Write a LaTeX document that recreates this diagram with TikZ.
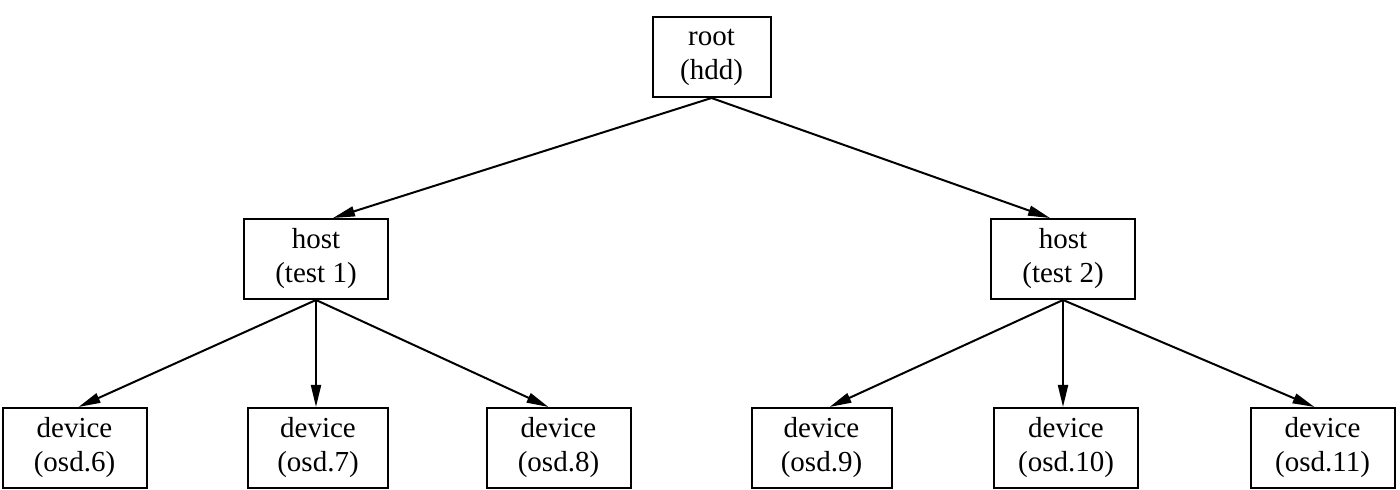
\documentclass[tikz,border=0pt]{standalone}
\usepackage{fontspec}
\setmainfont{Liberation Serif}
\usetikzlibrary{arrows.meta}
\begin{document}
\begin{tikzpicture}[x=0.5pt, y=-0.5pt, every node/.style={font=\fontsize{14.5}{17}\selectfont}]
  \tikzstyle{box}=[draw,line width=1pt,minimum width=72pt,minimum height=40pt,align=center,inner sep=0pt]
  \tikzstyle{edge}=[line width=1pt,-{Triangle[length=11pt,width=5pt]}]
  \useasboundingbox (0,0) rectangle (1400,490);
  \node[box,minimum width=59pt] (root) at (711.5,57) {root\\(hdd)};
  \node[box] (h1) at (316,259) {host\\(test 1)};
  \node[box] (h2) at (1063,259) {host\\(test 2)};
  \node[box] (d6) at (74.5,448) {device\\(osd.6)};
  \node[box,minimum width=70pt] (d7) at (318,448) {device\\(osd.7)};
  \node[box] (d8) at (558.5,448) {device\\(osd.8)};
  \node[box,minimum width=70pt] (d9) at (821.5,448) {device\\(osd.9)};
  \node[box] (d10) at (1066,448) {device\\(osd.10)};
  \node[box] (d11) at (1322.5,448) {device\\(osd.11)};
  \draw[edge] (root.south) -- ([xshift=8.5pt]h1.north);
  \draw[edge] (root.south) -- ([xshift=-6.5pt]h2.north);
  \draw[edge] (h1.south) -- ([xshift=2pt]d6.north);
  \draw[edge] (h1.south) -- ([xshift=-1pt]d7.north);
  \draw[edge] (h1.south) -- ([xshift=-5pt]d8.north);
  \draw[edge] (h2.south) -- ([xshift=4pt]d9.north);
  \draw[edge] (h2.south) -- ([xshift=-1.5pt]d10.north);
  \draw[edge] (h2.south) -- ([xshift=-4pt]d11.north);
\end{tikzpicture}
\end{document}
